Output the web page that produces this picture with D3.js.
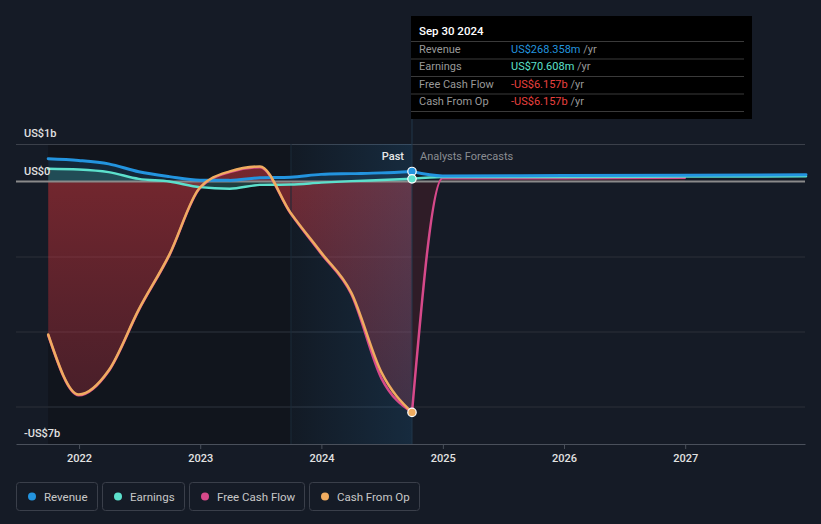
<!DOCTYPE html>
<html><head><meta charset="utf-8">
<script src="https://cdn.jsdelivr.net/npm/d3@7"></script>
<style>
html,body{margin:0;padding:0;background:#151b26;}
svg{display:block;font-family:Roboto,"Noto Sans",sans-serif;}
</style></head>
<body><svg id="c" width="821" height="524"></svg>
<script>
// ---- data (billions USD) ----
const pastDates = ["2021-09-30","2021-12-31","2022-03-31","2022-06-30","2022-09-30","2022-12-31","2023-03-31","2023-06-30","2023-09-30","2023-12-31","2024-03-31","2024-06-30","2024-09-30"];
const revenuePast  = [0.605,0.56,0.47,0.26,0.13,0.035,0.03,0.10,0.115,0.19,0.21,0.23,0.268];
const earningsPast = [0.34,0.32,0.25,0.07,0.0,-0.15,-0.19,-0.09,-0.08,-0.03,0.01,0.04,0.0706];
const cfoPast      = [-4.08,-5.68,-5.04,-3.41,-1.95,-0.16,0.27,0.40,-0.83,-1.89,-2.96,-5.09,-6.157];
const fcfPast      = [-4.10,-5.70,-5.06,-3.43,-1.97,-0.18,0.25,0.38,-0.85,-1.92,-3.00,-5.25,-6.157];
const forecastDates = ["2024-09-30","2024-12-31","2025-12-31","2026-12-31","2027-12-31"];
const revenueFc  = [0.268,0.15,0.16,0.17,0.18];
const earningsFc = [0.0706,0.12,0.12,0.13,0.14];
const fcfFc      = [-6.157,0.09,0.09,0.10];
const yTickVals   = [1,0,-7];
const yTickLabels = ["US$1b","US$0","-US$7b"];
const gridVals    = [1,-2,-4,-6];
const legendNames = ["Revenue","Earnings","Free Cash Flow","Cash From Op"];
const colors = {rev:"#2394df", earn:"#5ce0cc", fcf:"#d6498a", cfo:"#f0ac60"};
const tipTitle = "Sep 30 2024";
const tipRows = [["Revenue","US$268.358m","#2394df"],["Earnings","US$70.608m","#5ce0cc"],["Free Cash Flow","-US$6.157b","#e8413f"],["Cash From Op","-US$6.157b","#e8413f"]];

const P = d3.timeParse("%Y-%m-%d");
const svg = d3.select("#c");
const x = d3.scaleTime().domain([P("2021-06-25"),P("2027-12-28")]).range([16,805]);
const y = d3.scaleLinear().domain([-7,1]).range([444,144]);
const mk = (dates, vals) => vals.map((v,i)=>({d:P(dates[i]),v}));

const rev = mk(pastDates,revenuePast), earn = mk(pastDates,earningsPast);
const cfo = mk(pastDates,cfoPast), fcf = mk(pastDates,fcfPast);
const revF = mk(forecastDates,revenueFc), earnF = mk(forecastDates,earningsFc), fcfF = mk(forecastDates,fcfFc);

const defs = svg.append("defs");
const g1 = defs.append("linearGradient").attr("id","redg").attr("gradientUnits","userSpaceOnUse")
  .attr("x1",0).attr("x2",0).attr("y1",y(0.4)).attr("y2",y(-6.2));
g1.append("stop").attr("offset",0).attr("stop-color","#b8333a").attr("stop-opacity",0.6);
g1.append("stop").attr("offset",1).attr("stop-color","#a8303f").attr("stop-opacity",0.35);
const g2 = defs.append("linearGradient").attr("id","hl").attr("x1",0).attr("x2",1).attr("y1",0).attr("y2",0);
g2.append("stop").attr("offset",0).attr("stop-color","#2a78b4").attr("stop-opacity",0.05);
g2.append("stop").attr("offset",1).attr("stop-color","#2a78b4").attr("stop-opacity",0.22);

const xStart = x(P(pastDates[0])), xNow = x(P("2024-09-30")), xHl = x(P("2023-09-30"));

// past dark region
svg.append("rect").attr("x",xStart).attr("y",144).attr("width",xNow-xStart).attr("height",300).attr("fill","#11151d");

// grid
svg.selectAll(".grid").data(gridVals).enter().append("line")
  .attr("x1",16).attr("x2",805).attr("y1",d=>y(d)+0.5).attr("y2",d=>y(d)+0.5)
  .attr("stroke",d=>d===1?"#3b404a":"#252a33").attr("stroke-width",d=>d===1?1:1.5);

const line = d3.line().x(d=>x(d.d)).y(d=>y(d.v)).curve(d3.curveMonotoneX);
const area = d3.area().x(d=>x(d.d)).y0(y(0)).y1(d=>y(d.v)).curve(d3.curveMonotoneX);

// areas
svg.append("path").attr("d",area(rev)).attr("fill",colors.rev).attr("opacity",0.15);
svg.append("path").attr("d",area(earn)).attr("fill",colors.earn).attr("opacity",0.2);
svg.append("path").attr("d",area(cfo)).attr("fill","url(#redg)");
svg.append("path").attr("d",area(fcfF)).attr("fill","#3a1c28").attr("opacity",0.7);

// highlight overlay (last year of past)
svg.append("rect").attr("x",xHl).attr("y",144).attr("width",xNow-xHl).attr("height",300).attr("fill","url(#hl)");
svg.append("line").attr("x1",xHl+0.5).attr("x2",xHl+0.5).attr("y1",144).attr("y2",444).attr("stroke","#1b2a38");

// zero line
svg.append("line").attr("x1",16).attr("x2",805).attr("y1",y(0)).attr("y2",y(0)).attr("stroke","#8a8a8a").attr("stroke-width",2);

// divider
svg.append("line").attr("x1",xNow).attr("x2",xNow).attr("y1",16).attr("y2",444).attr("stroke","#21384a").attr("stroke-width",1);

// lines
const drawLine=(data,c,w)=>svg.append("path").attr("d",line(data)).attr("fill","none").attr("stroke",c).attr("stroke-width",w).attr("stroke-linecap","round");
drawLine(fcf,colors.fcf,2.5);
drawLine(fcfF,colors.fcf,2.5);
drawLine(earn,colors.earn,2.5);
drawLine(earnF,colors.earn,2.5);
drawLine(rev,colors.rev,3);
drawLine(revF,colors.rev,3);
drawLine(cfo,colors.cfo,2.5);

// points
[[revenuePast[12],colors.rev],[earningsPast[12],colors.earn],[cfoPast[12],colors.cfo]].forEach(([v,c])=>{
  svg.append("circle").attr("cx",xNow).attr("cy",y(v)).attr("r",4.2).attr("fill",c).attr("stroke","#fff").attr("stroke-width",1.2);
});

// bottom axis
const ax = svg.append("g").attr("transform","translate(0,444)")
  .call(d3.axisBottom(x).ticks(d3.timeYear.every(1)).tickFormat(d3.timeFormat("%Y")).tickSize(5).tickSizeOuter(0));
ax.select(".domain").attr("stroke","#4a505b");
ax.selectAll(".tick line").attr("stroke","#4a505b");
ax.selectAll(".tick text").attr("fill","#e2e2e2").attr("font-size",11).attr("font-weight",500).attr("dy","0.95em").attr("font-family","Roboto");
ax.selectAll(".tick").filter(d=>d<P("2021-12-01")).remove();

// y labels
svg.selectAll(".yl").data(yTickVals).enter().append("text")
  .attr("x",24).attr("y",d=>y(d)-7).text((d,i)=>yTickLabels[i])
  .attr("fill","#e2e2e2").attr("font-size",11).attr("font-weight",500);

// Past / forecast labels
svg.append("text").attr("x",xNow-8).attr("y",160).attr("text-anchor","end").text("Past").attr("fill","#e8e8e8").attr("font-size",11).attr("font-weight",500);
svg.append("text").attr("x",xNow+8).attr("y",160).text("Analysts Forecasts").attr("fill","#8a8d92").attr("font-size",11);

// tooltip
const tip = svg.append("g");
tip.append("rect").attr("x",411).attr("y",16).attr("width",341).attr("height",103).attr("fill","#000");
tip.append("text").attr("x",419).attr("y",35).text(tipTitle).attr("fill","#fff").attr("font-size",11.5).attr("font-weight",500);
[41,58.5,76,93.5,111].forEach(yy=>tip.append("line").attr("x1",411).attr("x2",744).attr("y1",yy+0.5).attr("y2",yy+0.5).attr("stroke","#3a3a3a"));
tipRows.forEach((r,i)=>{
  const yy = 52.5 + i*17.5;
  tip.append("text").attr("x",419).attr("y",yy).text(r[0]).attr("fill","#999").attr("font-size",11);
  const t = tip.append("text").attr("x",511).attr("y",yy).attr("font-size",11);
  t.append("tspan").text(r[1]).attr("fill",r[2]);
  t.append("tspan").text(" /yr").attr("fill","#999");
});

// legend
const legCol = [colors.rev,colors.earn,colors.fcf,colors.cfo];
const lx = [16,102,189,309], lw=[81,82,115,110];
legendNames.forEach((n,i)=>{
  const g = svg.append("g");
  g.append("rect").attr("x",lx[i]+0.5).attr("y",482.5).attr("width",lw[i]).attr("height",28).attr("rx",3).attr("fill","none").attr("stroke","#3a3f4a");
  g.append("circle").attr("cx",lx[i]+16).attr("cy",496.5).attr("r",4).attr("fill",legCol[i]);
  g.append("text").attr("x",lx[i]+28).attr("y",500.5).text(n).attr("fill","#c8c8c8").attr("font-size",11.5);
});
</script></body></html>
